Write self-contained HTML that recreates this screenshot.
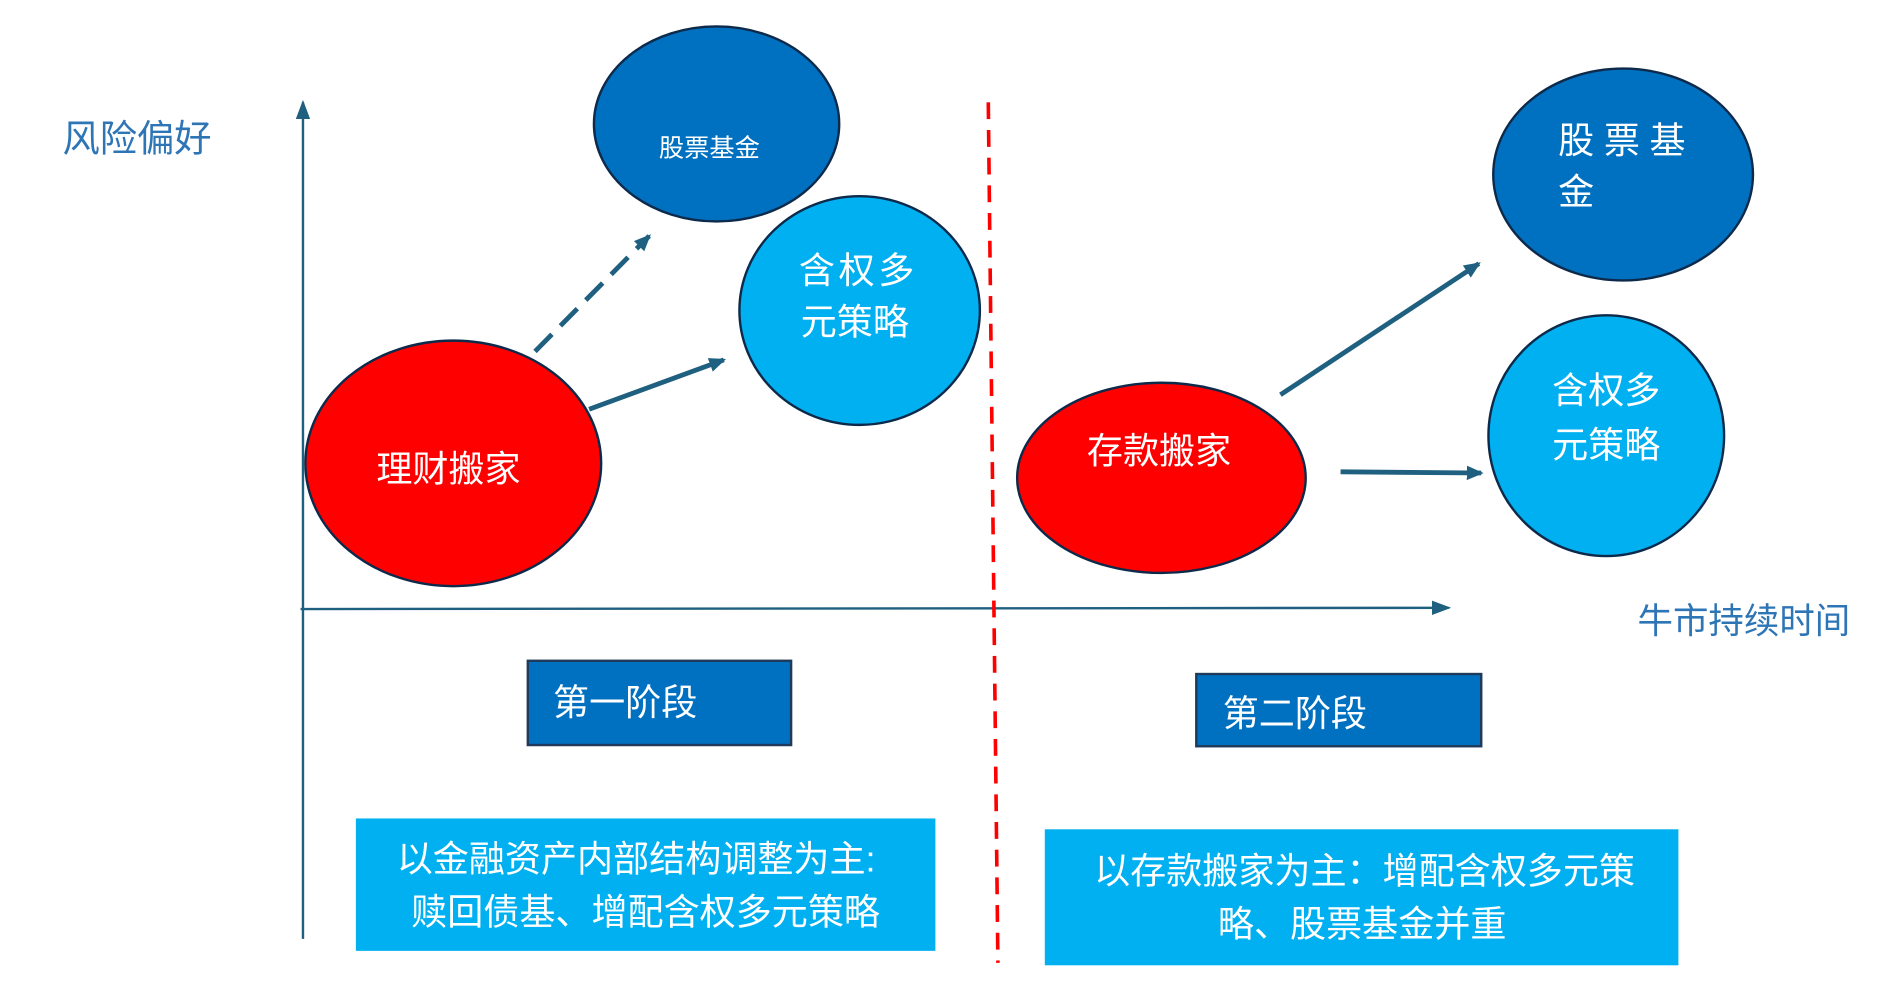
<!DOCTYPE html>
<html><head><meta charset="utf-8"><style>
html,body{margin:0;padding:0;background:#fff;width:1884px;height:999px;overflow:hidden}
svg{display:block}
text{font-family:"Liberation Sans","Noto Sans CJK SC",sans-serif}
</style></head><body>
<svg width="1884" height="999" viewBox="0 0 1567 830" preserveAspectRatio="none">
<defs>
<marker id="a" markerWidth="14" markerHeight="14" refX="12" refY="7" orient="auto" markerUnits="userSpaceOnUse" viewBox="0 0 14 14"><path d="M0,1 L14,7 L0,13 Z" fill="#1f5f7f"/></marker>
<marker id="b" markerWidth="16" markerHeight="16" refX="14" refY="8" orient="auto" markerUnits="userSpaceOnUse" viewBox="0 0 16 16"><path d="M0,2 L16,8 L0,14 Z" fill="#1f5f7f"/></marker>
</defs>
<text x="52" y="126" font-size="31" fill="#2E75B6">风险偏好</text>
<text x="1362" y="526" font-size="29.5" fill="#2E75B6">牛市持续时间</text>
<line x1="252" y1="780" x2="252" y2="85" stroke="#1f5f7f" stroke-width="2" marker-end="url(#b)"/>
<line x1="250" y1="506" x2="1205" y2="505" stroke="#1f5f7f" stroke-width="2" marker-end="url(#b)"/>
<line x1="822" y1="85" x2="830" y2="800" stroke="#FF0000" stroke-width="3" stroke-dasharray="14,9"/>
<ellipse cx="596" cy="103" rx="102" ry="81" fill="#0070C0" stroke="#0d2a4a" stroke-width="2"/>
<text x="590" y="130" font-size="21" fill="#fff" text-anchor="middle">股票基金</text>
<ellipse cx="715" cy="258" rx="100" ry="95" fill="#00B0F0" stroke="#0d2a4a" stroke-width="2"/>
<text x="714" y="235" font-size="30" fill="#fff" text-anchor="middle" letter-spacing="3">含权多</text>
<text x="711" y="278" font-size="30" fill="#fff" text-anchor="middle">元策略</text>
<ellipse cx="377" cy="385" rx="123" ry="102" fill="#FF0000" stroke="#0d2a4a" stroke-width="2"/>
<text x="373" y="400" font-size="30" fill="#fff" text-anchor="middle">理财搬家</text>
<line x1="445" y1="292" x2="540" y2="196" stroke="#1f5f7f" stroke-width="4" stroke-dasharray="20,10" marker-end="url(#a)"/>
<line x1="490" y1="340" x2="602" y2="299" stroke="#1f5f7f" stroke-width="4" marker-end="url(#a)"/>
<ellipse cx="966" cy="397" rx="120" ry="79" fill="#FF0000" stroke="#0d2a4a" stroke-width="2"/>
<text x="964" y="385" font-size="30" fill="#fff" text-anchor="middle">存款搬家</text>
<ellipse cx="1350" cy="145" rx="108" ry="88" fill="#0070C0" stroke="#0d2a4a" stroke-width="2"/>
<text x="1296" y="127" font-size="30" fill="#fff" letter-spacing="8">股票基</text>
<text x="1296" y="170" font-size="30" fill="#fff">金</text>
<ellipse cx="1336" cy="362" rx="98" ry="100" fill="#00B0F0" stroke="#0d2a4a" stroke-width="2"/>
<text x="1336" y="335" font-size="30" fill="#fff" text-anchor="middle">含权多</text>
<text x="1336" y="380" font-size="30" fill="#fff" text-anchor="middle">元策略</text>
<line x1="1065" y1="328" x2="1230" y2="219" stroke="#1f5f7f" stroke-width="4" marker-end="url(#a)"/>
<line x1="1115" y1="392" x2="1232" y2="393" stroke="#1f5f7f" stroke-width="4" marker-end="url(#a)"/>
<rect x="439" y="549" width="219" height="70" fill="#0070C0" stroke="#1f3a5a" stroke-width="2"/>
<text x="460" y="594" font-size="30" fill="#fff">第一阶段</text>
<rect x="995" y="560" width="237" height="60" fill="#0070C0" stroke="#1f3a5a" stroke-width="2"/>
<text x="1017" y="603" font-size="30" fill="#fff">第二阶段</text>
<rect x="296" y="680" width="482" height="110" fill="#00B0F0"/>
<text x="330" y="724" font-size="30" fill="#fff">以金融资产内部结构调整为主:</text>
<text x="342" y="768" font-size="30" fill="#fff">赎回债基、增配含权多元策略</text>
<rect x="869" y="689" width="527" height="113" fill="#00B0F0"/>
<text x="910" y="734" font-size="30" fill="#fff">以存款搬家为主：增配含权多元策</text>
<text x="1013" y="778" font-size="30" fill="#fff">略、股票基金并重</text>
</svg>
</body></html>
